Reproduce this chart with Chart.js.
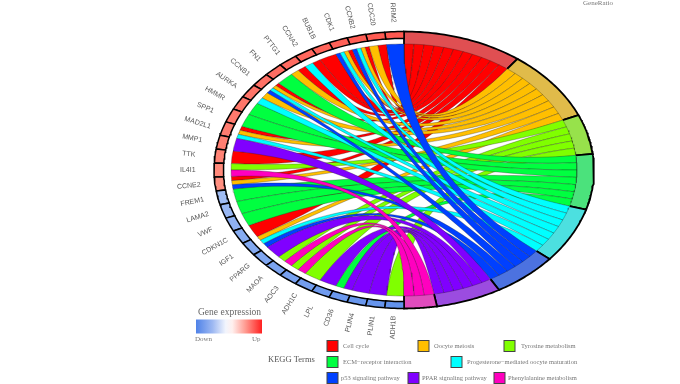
<!DOCTYPE html>
<html>
<head>
<meta charset="utf-8">
<title>KEGG chord</title>
<script src="https://cdn.jsdelivr.net/npm/chart.js@4"></script>
<style>
  html, body { margin: 0; padding: 0; background: #fff; }
  canvas { display: block; }
</style>
</head>
<body>
<canvas id="chordChart" width="680" height="384"></canvas>
<script>
// genes run anticlockwise from the top, terms run clockwise from the top
const genes = ["RRM2", "CDC20", "CCNB2", "CDK1", "BUB1B", "CCNA2", "PTTG1", "FN1", "CCNB1", "AURKA",
  "HMMR", "SPP1", "MAD2L1", "MMP1", "TTK", "IL4I1", "CCNE2", "FREM1", "LAMA2", "VWF", "CDKN1C",
  "IGF1", "PPARG", "MAOA", "AOC3", "ADH1C", "LPL", "CD36", "PLIN4", "PLIN1", "ADH1B"];
const logFC = [3.0, 2.95, 2.9, 2.85, 2.8, 2.75, 2.7, 2.65, 2.6, 2.55, 2.5, 2.45, 2.4, 2.35, 2.3, 2.2, 2.1,
  -2.3, -2.5, -2.7, -2.9, -3.0, -3.1, -3.2, -3.3, -3.4, -3.5, -3.6, -3.65, -3.7, -3.8];
const terms = ["Cell cycle", "Oocyte meiosis", "Tyrosine metabolism", "ECM\u2212receptor interaction",
  "Progesterone\u2212mediated oocyte maturation", "p53 signaling pathway", "PPAR signaling pathway",
  "Phenylalanine metabolism"];
const termGenes = [
  ["CDC20", "CCNB2", "CDK1", "BUB1B", "CCNA2", "PTTG1", "CCNB1", "MAD2L1", "TTK", "CCNE2", "CDKN1C"],
  ["CDC20", "CCNB2", "CDK1", "PTTG1", "CCNB1", "AURKA", "MAD2L1", "CCNE2", "IGF1"],
  ["IL4I1", "MAOA", "AOC3", "ADH1C", "ADH1B"],
  ["FN1", "HMMR", "SPP1", "FREM1", "LAMA2", "VWF", "CD36"],
  ["CCNB2", "CDK1", "CCNA2", "CCNB1", "AURKA", "MAD2L1", "IGF1"],
  ["RRM2", "CCNB2", "CDK1", "CCNB1", "CCNE2", "IGF1"],
  ["MMP1", "PPARG", "LPL", "CD36", "PLIN4", "PLIN1"],
  ["IL4I1", "MAOA", "AOC3"]
];
const ribbonColors = ["#FF0000", "#FFBF00", "#80FF00", "#00FF40", "#00FFFF", "#0040FF", "#8000FF", "#FF00BF"];
const ringColors = ["#E04F52", "#E0BB4A", "#97E24B", "#4BE27C", "#4CE0E0", "#4C72E0", "#9B4CE0", "#E04CBD"];

const RING_OUTER = 1;
const GENE_INNER = 0.95;
const RIBBON_EDGE = 0.91;
const LABEL_RADIUS = 1.138;
const FC_LIMIT = 4;

const rad = (deg) => deg * Math.PI / 180;
const genePoint = (deg, r) => ({ x: -Math.sin(rad(deg)) * r, y: Math.cos(rad(deg)) * r });
const termPoint = (deg, r) => ({ x: Math.sin(rad(deg)) * r, y: Math.cos(rad(deg)) * r });

function arcPoints(pointFn, from, to, r, steps) {
  const pts = [];
  for (let i = 0; i <= steps; i++) {
    pts.push(pointFn(from + (to - from) * i / steps, r));
  }
  return pts;
}

// quadratic curve with its control point in the centre of the circle
function curvePoints(a, b) {
  const pts = [];
  for (let i = 0; i <= 50; i++) {
    const t = i / 50;
    pts.push({
      x: (1 - t) * (1 - t) * a.x + t * t * b.x,
      y: (1 - t) * (1 - t) * a.y + t * t * b.y,
    });
  }
  return pts;
}

function mix(a, b, t) {
  return a.map((v, i) => Math.round(v + (b[i] - v) * t));
}

function geneColor(fc) {
  const t = Math.min(Math.abs(fc) / FC_LIMIT, 1);
  let c;
  if (fc > 0) {
    c = t < 0.5 ? mix([255, 255, 255], [255, 149, 133], t * 2) : mix([255, 149, 133], [255, 26, 26], t * 2 - 1);
  } else {
    c = mix([255, 255, 255], [90, 140, 235], t);
  }
  return `rgb(${c.join(",")})`;
}

/**
 * Build every mark as one scatter dataset, in the order they get painted
 */
function buildDatasets() {
  const totalLinks = termGenes.reduce((sum, list) => sum + list.length, 0);
  const termUnit = 180 / totalLinks;
  const geneUnit = 180 / genes.length;
  const marks = [];

  // term sectors: open outline, so no black line on the inner edge
  let start = 0;
  const termStarts = termGenes.map((list, i) => {
    const from = start;
    const to = from + list.length * termUnit;
    marks.push({
      data: [termPoint(from, RIBBON_EDGE), ...arcPoints(termPoint, from, to, RING_OUTER, 30), termPoint(to, RIBBON_EDGE)],
      fillColor: ringColors[i],
      borderColor: "#000",
      borderWidth: 1.8,
    });
    start = to;
    return from;
  });

  // gene sectors
  genes.forEach((gene, g) => {
    const from = g * geneUnit;
    const to = from + geneUnit;
    marks.push({
      data: [...arcPoints(genePoint, from, to, RING_OUTER, 6), ...arcPoints(genePoint, to, from, GENE_INNER, 6), genePoint(from, RING_OUTER)],
      fillColor: geneColor(logFC[g]),
      borderColor: "#000",
      borderWidth: 1.5,
    });
  });

  // ribbons, term by term
  termGenes.forEach((list, t) => {
    const ordered = [...list].sort((a, b) => genes.indexOf(a) - genes.indexOf(b));
    ordered.forEach((gene, slot) => {
      const g = genes.indexOf(gene);
      const shared = termGenes.map((l, i) => (l.includes(gene) ? i : -1)).filter((i) => i >= 0);
      const part = geneUnit / shared.length;
      const g1 = g * geneUnit + shared.indexOf(t) * part;
      const g2 = g1 + part;
      const t1 = termStarts[t] + slot * termUnit;
      const t2 = t1 + termUnit;
      marks.push({
        data: [
          ...curvePoints(genePoint(g1, RIBBON_EDGE), termPoint(t1, RIBBON_EDGE)),
          ...arcPoints(termPoint, t1, t2, RIBBON_EDGE, 4),
          ...curvePoints(termPoint(t2, RIBBON_EDGE), genePoint(g2, RIBBON_EDGE)),
          ...arcPoints(genePoint, g2, g1, RIBBON_EDGE, 4),
        ],
        fillColor: ribbonColors[t],
        borderColor: "rgba(30,30,30,0.6)",
        borderWidth: 0.5,
      });
    });
  });

  // Chart.js paints the last dataset first
  return marks.reverse().map((m) => ({
    ...m,
    showLine: true,
    fill: false,
    tension: 0,
    pointRadius: 0,
    pointHoverRadius: 0,
  }));
}

// fill each polygon from the points the scales have placed
const polygonFill = {
  id: "polygonFill",
  beforeDatasetDraw(chart, args) {
    const { ctx } = chart;
    const points = args.meta.data;
    ctx.save();
    ctx.beginPath();
    points.forEach((p, i) => (i ? ctx.lineTo(p.x, p.y) : ctx.moveTo(p.x, p.y)));
    ctx.closePath();
    ctx.fillStyle = chart.data.datasets[args.index].fillColor;
    ctx.fill();
    ctx.restore();
  },
};

const geneLabels = {
  id: "geneLabels",
  afterDatasetsDraw(chart) {
    const { ctx, scales } = chart;
    const geneUnit = 180 / genes.length;
    ctx.save();
    ctx.font = "7px 'Liberation Sans'";
    ctx.fillStyle = "#555";
    ctx.textAlign = "center";
    ctx.textBaseline = "middle";
    genes.forEach((gene, g) => {
      const deg = (g + 0.5) * geneUnit;
      const p = genePoint(deg, LABEL_RADIUS);
      ctx.save();
      ctx.translate(scales.x.getPixelForValue(p.x), scales.y.getPixelForValue(p.y));
      ctx.rotate(rad(90 - deg));
      ctx.fillText(gene, 0, 0);
      ctx.restore();
    });
    ctx.restore();
  },
};

const legendBoxes = [
  { term: 0, keyX: 327, textX: 343, y: 346 },
  { term: 1, keyX: 418, textX: 434, y: 346 },
  { term: 2, keyX: 504, textX: 521, y: 346 },
  { term: 3, keyX: 327, textX: 343, y: 362 },
  { term: 4, keyX: 451, textX: 467, y: 362 },
  { term: 5, keyX: 327, textX: 341, y: 378 },
  { term: 6, keyX: 408, textX: 422, y: 378 },
  { term: 7, keyX: 494, textX: 508, y: 378 },
];

const sideLegends = {
  id: "sideLegends",
  afterDraw(chart) {
    const { ctx } = chart;
    ctx.save();
    ctx.textBaseline = "middle";

    ctx.fillStyle = "#777";
    ctx.font = "7px 'Liberation Serif'";
    ctx.fillText("GeneRatio", 583, 3.5);

    ctx.fillStyle = "#666";
    ctx.font = "9.5px 'Liberation Serif'";
    ctx.fillText("Gene expression", 198, 312);

    const bar = ctx.createLinearGradient(196, 0, 262, 0);
    bar.addColorStop(0, "#4F82E8");
    bar.addColorStop(0.25, "#9DB8F2");
    bar.addColorStop(0.45, "#F2F5FD");
    bar.addColorStop(0.55, "#FFF0EE");
    bar.addColorStop(0.75, "#FF9A90");
    bar.addColorStop(1, "#FF2020");
    ctx.fillStyle = bar;
    ctx.fillRect(196, 319.5, 66, 14);

    ctx.fillStyle = "#777";
    ctx.font = "7px 'Liberation Serif'";
    ctx.fillText("Down", 195, 339.5);
    ctx.fillText("Up", 252, 339.5);

    ctx.fillStyle = "#555";
    ctx.font = "8.5px 'Liberation Serif'";
    ctx.fillText("KEGG Terms", 268, 360);

    ctx.font = "6.5px 'Liberation Serif'";
    legendBoxes.forEach((box) => {
      ctx.fillStyle = ribbonColors[box.term];
      ctx.fillRect(box.keyX, box.y - 5.5, 11, 11);
      ctx.strokeStyle = "#444";
      ctx.lineWidth = 1;
      ctx.strokeRect(box.keyX, box.y - 5.5, 11, 11);
      ctx.fillStyle = "#777";
      ctx.fillText(terms[box.term], box.textX, box.y);
    });
    ctx.restore();
  },
};

const hiddenAxis = (min, max) => ({ type: "linear", display: false, min, max, grid: { display: false } });

new Chart(document.getElementById("chordChart").getContext("2d"), {
  type: "scatter",
  data: { datasets: buildDatasets() },
  options: {
    responsive: false,
    animation: false,
    events: [],
    layout: { padding: 0 },
    plugins: { legend: { display: false }, tooltip: { enabled: false } },
    scales: {
      x: hiddenAxis(-404 / 190, 276 / 190),
      y: hiddenAxis(-214 / 138.5, 170 / 138.5),
    },
  },
  plugins: [polygonFill, geneLabels, sideLegends],
});
</script>
</body>
</html>
